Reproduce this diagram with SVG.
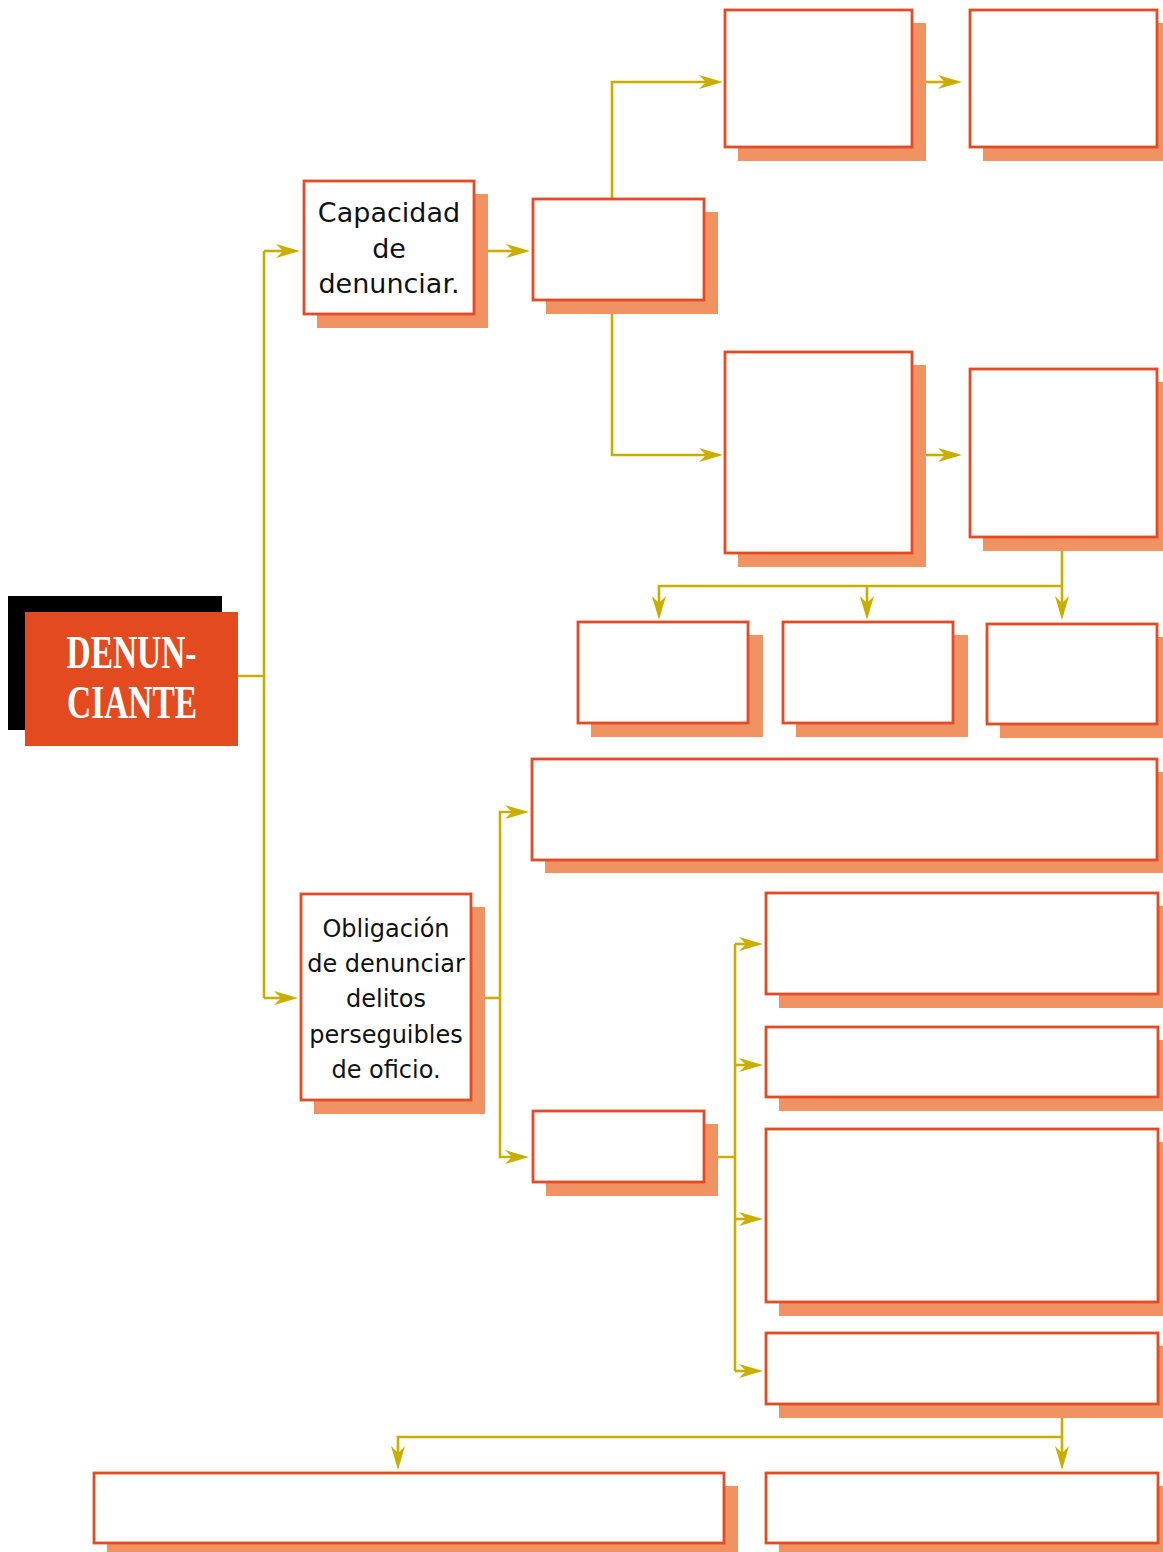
<svg xmlns="http://www.w3.org/2000/svg" width="1163" height="1552" viewBox="0 0 1163 1552">
<style>
.sh{fill:#F09262}
.bx{fill:#fff;stroke:#E44A23;stroke-width:2.8}
.cn{fill:none;stroke:#C9AE00;stroke-width:2.6}
.ar{marker-end:url(#ah)}
.t{font-family:"DejaVu Sans",sans-serif;fill:#111;text-anchor:middle}
.hd{font-family:"Liberation Serif",serif;font-weight:bold;fill:#fff;text-anchor:middle;font-size:46px}
</style>
<defs>
<marker id="ah" markerUnits="userSpaceOnUse" markerWidth="26" markerHeight="16" viewBox="0 0 26 16" refX="7" refY="8" orient="auto">
<path d="M24,8 L0,1 L7,8 L0,15 Z" fill="#C9AE00"/>
</marker>
</defs>
<g id="connectors">
<path class="cn" d="M238,676 H264 M264,251 V998"/>
<path class="cn ar" d="M264,251 H283"/>
<path class="cn ar" d="M264,998 H281"/>
<path class="cn ar" d="M488,251 H513"/>
<path class="cn ar" d="M612,199 V82 H706"/>
<path class="cn ar" d="M612,314 V455 H706"/>
<path class="cn ar" d="M926,82 H945"/>
<path class="cn ar" d="M926,455 H945"/>
<path class="cn ar" d="M1062,551 V603"/>
<path class="cn ar" d="M1062,586 H659 V603"/>
<path class="cn ar" d="M867,586 V603"/>
<path class="cn" d="M485,998 H500"/>
<path class="cn ar" d="M500,998 V812 H512"/>
<path class="cn ar" d="M500,998 V1157 H512"/>
<path class="cn" d="M718,1157 H735 M735,944 V1371"/>
<path class="cn ar" d="M735,944 H746"/>
<path class="cn ar" d="M735,1065 H746"/>
<path class="cn ar" d="M735,1219 H746"/>
<path class="cn ar" d="M735,1371 H746"/>
<path class="cn ar" d="M1062,1418 V1453"/>
<path class="cn ar" d="M1062,1437 H398 V1453"/>
</g>
<g id="denunciante">
<rect x="8" y="596" width="214" height="134" fill="#000"/>
<rect x="25" y="612" width="213" height="134" fill="#E34A20"/>
<text class="hd" x="131.5" y="668" textLength="130" lengthAdjust="spacingAndGlyphs">DENUN-</text>
<text class="hd" x="132" y="718" textLength="130" lengthAdjust="spacingAndGlyphs">CIANTE</text>
</g>
<g id="capacidad">
<rect class="sh" x="317" y="194" width="171" height="134"/>
<rect class="bx" x="304" y="181" width="170" height="133"/>
<text class="t" font-size="27" x="389" y="222">Capacidad</text>
<text class="t" font-size="27" x="389" y="258">de</text>
<text class="t" font-size="27" x="389" y="293">denunciar.</text>
</g>
<g id="box-b">
<rect class="sh" x="546" y="212" width="172" height="102"/>
<rect class="bx" x="533" y="199" width="171" height="101"/>
</g>
<g id="top1">
<rect class="sh" x="738" y="23" width="188" height="138"/>
<rect class="bx" x="725" y="10" width="187" height="137"/>
</g>
<g id="top2">
<rect class="sh" x="983" y="23" width="180" height="138"/>
<rect class="bx" x="970" y="10" width="187" height="137"/>
</g>
<g id="mid1">
<rect class="sh" x="738" y="365" width="188" height="202"/>
<rect class="bx" x="725" y="352" width="187" height="201"/>
</g>
<g id="mid2">
<rect class="sh" x="983" y="382" width="180" height="169"/>
<rect class="bx" x="970" y="369" width="187" height="168"/>
</g>
<g id="small1">
<rect class="sh" x="591" y="635" width="172" height="102"/>
<rect class="bx" x="578" y="622" width="170" height="101"/>
</g>
<g id="small2">
<rect class="sh" x="796" y="635" width="172" height="102"/>
<rect class="bx" x="783" y="622" width="170" height="101"/>
</g>
<g id="small3">
<rect class="sh" x="1000" y="637" width="163" height="101"/>
<rect class="bx" x="987" y="624" width="170" height="100"/>
</g>
<g id="wide">
<rect class="sh" x="545" y="772" width="618" height="101"/>
<rect class="bx" x="532" y="759" width="625" height="101"/>
</g>
<g id="obligacion">
<rect class="sh" x="314" y="907" width="171" height="207"/>
<rect class="bx" x="301" y="894" width="170" height="206"/>
<text class="t" font-size="24" x="386" y="937">Obligación</text>
<text class="t" font-size="24" x="386" y="972">de denunciar</text>
<text class="t" font-size="24" x="386" y="1007">delitos</text>
<text class="t" font-size="24" x="386" y="1043">perseguibles</text>
<text class="t" font-size="24" x="386" y="1078">de oficio.</text>
</g>
<g id="box-c">
<rect class="sh" x="546" y="1124" width="172" height="72"/>
<rect class="bx" x="533" y="1111" width="171" height="71"/>
</g>
<g id="r1">
<rect class="sh" x="779" y="906" width="384" height="102"/>
<rect class="bx" x="766" y="893" width="392" height="101"/>
</g>
<g id="r2">
<rect class="sh" x="779" y="1040" width="384" height="71"/>
<rect class="bx" x="766" y="1027" width="392" height="70"/>
</g>
<g id="r3">
<rect class="sh" x="779" y="1142" width="384" height="174"/>
<rect class="bx" x="766" y="1129" width="392" height="173"/>
</g>
<g id="r4">
<rect class="sh" x="779" y="1346" width="384" height="72"/>
<rect class="bx" x="766" y="1333" width="392" height="71"/>
</g>
<g id="bottom-left">
<rect class="sh" x="107" y="1486" width="631" height="66"/>
<rect class="bx" x="94" y="1473" width="630" height="70"/>
</g>
<g id="bottom-right">
<rect class="sh" x="779" y="1486" width="384" height="66"/>
<rect class="bx" x="766" y="1473" width="392" height="70"/>
</g>
</svg>
